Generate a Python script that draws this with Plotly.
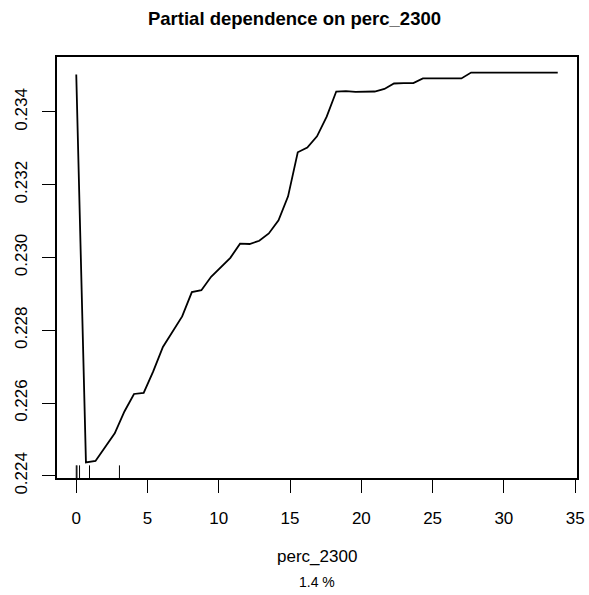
import plotly.graph_objects as go

# grid values of perc_2300 (x) and partial dependence (y)
x_vals = [0.00, 0.68, 1.35, 2.03, 2.70, 3.38, 4.05, 4.73, 5.40, 6.08,
          6.76, 7.43, 8.11, 8.78, 9.46, 10.13, 10.81, 11.49, 12.16, 12.84,
          13.51, 14.19, 14.86, 15.54, 16.21, 16.89, 17.57, 18.24, 18.92, 19.59,
          20.27, 20.94, 21.62, 22.29, 22.97, 23.65, 24.32, 25.00, 25.67, 26.35,
          27.02, 27.70, 28.37, 29.05, 29.73, 30.40, 31.08, 31.75, 32.43, 33.10,
          33.78]
y_vals = [0.23503, 0.22437, 0.22441, 0.22481, 0.22517, 0.22577, 0.22625, 0.22628, 0.22687, 0.22754,
          0.22797, 0.22838, 0.22905, 0.22910, 0.22947, 0.22974, 0.22999, 0.23038, 0.23037, 0.23046,
          0.23066, 0.23102, 0.23168, 0.23289, 0.23302, 0.23333, 0.23387, 0.23456, 0.23457, 0.23455,
          0.23455, 0.23456, 0.23463, 0.23478, 0.23479, 0.23479, 0.23492, 0.23492, 0.23492, 0.23492,
          0.23492, 0.23508, 0.23508, 0.23508, 0.23508, 0.23508, 0.23508, 0.23508, 0.23508, 0.23508,
          0.23508]
rug_vals = [0.0, 0.05, 0.23, 0.93, 3.03]

x_ticks = [0, 5, 10, 15, 20, 25, 30, 35]
y_ticks = [0.224, 0.226, 0.228, 0.230, 0.232, 0.234]
y_ticktext = ["0.224", "0.226", "0.228", "0.230", "0.232", "0.234"]

title_text = "<b>Partial dependence on perc_2300</b>"
x_label = "perc_2300"
sub_label = "1.4 %"

FONT = "Liberation Sans, Arial, Helvetica, sans-serif"


def padded(lo, hi, frac=0.04):
    d = (hi - lo) * frac
    return [lo - d, hi + d]


x_range = padded(min(x_vals), max(x_vals))
y_range = padded(min(y_vals), max(y_vals))

fig = go.Figure()
fig.add_trace(go.Scatter(x=x_vals, y=y_vals, mode="lines",
                         line=dict(color="black", width=1.8),
                         hoverinfo="skip", showlegend=False))

for rv in rug_vals:
    fig.add_shape(type="line", xref="x", yref="y domain",
                  x0=rv, x1=rv, y0=0, y1=0.03,
                  line=dict(color="black", width=1))

fig.update_layout(
    width=589, height=595,
    margin=dict(l=57, r=12, t=57, b=117, autoexpand=False),
    paper_bgcolor="white", plot_bgcolor="white",
    font=dict(family=FONT, color="black", size=17),
    title=dict(text=title_text, x=0.5, xref="container", xanchor="center",
               y=1 - 19 / 595, yref="container", yanchor="middle",
               font=dict(size=18.5, family=FONT, color="black"), automargin=False),
    showlegend=False,
)
fig.update_xaxes(range=x_range, tickvals=x_ticks, ticks="outside", ticklen=13,
                 tickwidth=1.3, tickcolor="black", showline=True, linecolor="black",
                 linewidth=1.5, mirror=True, showgrid=False, zeroline=False,
                 tickfont=dict(size=17), ticklabelstandoff=11, automargin=False)
fig.update_yaxes(range=y_range, tickvals=y_ticks, ticktext=y_ticktext, ticks="outside",
                 ticklen=13, tickwidth=1.3, tickcolor="black", showline=True,
                 linecolor="black", linewidth=1.5, mirror=True, showgrid=False,
                 zeroline=False, tickangle=-90, tickfont=dict(size=17),
                 ticklabelstandoff=8, automargin=False)

fig.add_annotation(text=x_label, xref="paper", yref="paper", x=0.5, y=0,
                   yshift=-78.5, yanchor="middle", showarrow=False,
                   font=dict(size=17, family=FONT, color="black"))
fig.add_annotation(text=sub_label, xref="paper", yref="paper", x=0.5, y=0,
                   yshift=-103.5, yanchor="middle", showarrow=False,
                   font=dict(size=14, family=FONT, color="black"))

fig.write_html("out.html", config={"displayModeBar": False},
               post_script="document.body.style.margin='0';document.body.style.padding='0';")
